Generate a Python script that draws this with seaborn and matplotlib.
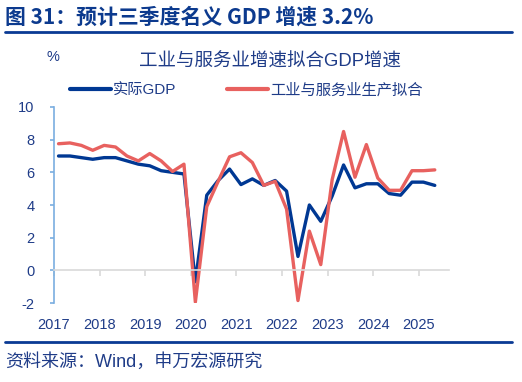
import pandas as pd
import matplotlib
matplotlib.use('Agg')
import matplotlib.pyplot as plt
from matplotlib.lines import Line2D
import seaborn as sns

# 季度 (2017Q1 - 2025Q2)
quarters = pd.period_range('2017Q1', '2025Q2', freq='Q')

# 实际GDP同比 (%)
gdp_real = [7.0, 7.0, 6.9, 6.8,
            6.9, 6.9, 6.7, 6.5,
            6.4, 6.1, 6.0, 5.9,
            -0.7, 4.6, 5.5, 6.2,
            5.25, 5.6, 5.2, 5.5,
            4.85, 0.85, 4.0, 3.0,
            4.55, 6.45, 5.05, 5.3,
            5.3, 4.7, 4.6, 5.4,
            5.4, 5.2]

# 工业与服务业生产拟合 (%)
gdp_fit = [7.75, 7.8, 7.65, 7.35,
           7.65, 7.55, 7.0, 6.7,
           7.15, 6.7, 6.05, 6.5,
           -1.95, 3.9, 5.45, 6.95,
           7.2, 6.6, 5.2, 5.45,
           3.75, -1.85, 2.4, 0.35,
           5.55, 8.5, 5.7, 7.7,
           5.65, 4.9, 4.9, 6.1,
           6.1, 6.15]

years = list(range(2017, 2026))
series_names = ['实际GDP', '工业与服务业生产拟合']
colors = ['#003893', '#e8615f']

navy = '#1f3c88'

# 季度 -> 年份小数坐标
xpos = [q.year + (q.quarter - 1) / 4 + 0.1 for q in quarters]
df = pd.DataFrame({'x': xpos, series_names[0]: gdp_real, series_names[1]: gdp_fit})
df_long = df.melt(id_vars='x', var_name='系列', value_name='增速')

sns.set_style('white')
plt.rcParams['font.family'] = ['Liberation Sans', 'Noto Sans CJK SC']
plt.rcParams['axes.unicode_minus'] = False

fig = plt.figure(figsize=(5.22, 3.82), dpi=100)
ax = fig.add_axes([0.1034, 0.2068, 0.7566, 0.5131])

sns.lineplot(data=df_long, x='x', y='增速', hue='系列', palette=colors,
             linewidth=2.4, ax=ax, legend=False)

ax.set_xlim(2017, 2025.66)
ax.set_ylim(-2, 10)
ax.set_yticks(range(-2, 11, 2))
ax.set_xticks(years)
ax.set_xticklabels([str(y) for y in years])
ax.set_xlabel('')
ax.set_ylabel('')

for s in ['top', 'right']:
    ax.spines[s].set_visible(False)
ax.spines['left'].set_color('#7aaee0')
ax.spines['left'].set_linewidth(1.2)
ax.spines['bottom'].set_position(('data', 0))
ax.spines['bottom'].set_color('#d9d9d9')
ax.spines['bottom'].set_linewidth(1.2)

ax.tick_params(axis='y', direction='out', length=3, width=1.2, color='#7aaee0',
               labelsize=10.5, labelcolor=navy, pad=11, left=True)
ax.tick_params(axis='x', direction='out', length=4, width=1.2, color='#d9d9d9',
               labelsize=10.5, labelcolor=navy, pad=30, bottom=True)

# 图例
handles = [Line2D([0], [0], color=c, lw=3) for c in colors]
fig.legend(handles, series_names, loc='center left', bbox_to_anchor=(0.107, 0.763),
           ncol=2, frameon=False, handlelength=2.7, handletextpad=0.15,
           columnspacing=3.3, prop={'size': 11}, labelcolor=navy)

# 标题与注释
fig.text(0.01, 0.955, '图 31：预计三季度名义 GDP 增速 3.2%', fontsize=15,
         fontweight='bold', color='#0c3a8e', va='center', ha='left',
         family=['Noto Sans CJK SC', 'DejaVu Sans'])
fig.text(0.517, 0.838, '工业与服务业增速拟合GDP增速', fontsize=13.3, color=navy,
         va='center', ha='center')
fig.text(0.101, 0.851, '%', fontsize=10.5, color=navy, va='center', ha='center')
fig.text(0.01, 0.052, '资料来源：Wind，申万宏源研究', fontsize=13, color=navy,
         va='center', ha='left')

fig.add_artist(Line2D([0.01, 0.981], [0.916, 0.916], color='#0a3a94', lw=2))
fig.add_artist(Line2D([0.01, 0.981], [0.1047, 0.1047], color='#0a3a94', lw=2))

fig.savefig('out.png', dpi=100)
